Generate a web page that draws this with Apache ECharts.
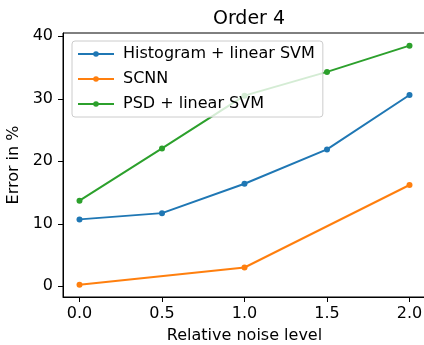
<!DOCTYPE html>
<html>
<head>
<meta charset="utf-8">
<script src="https://cdn.jsdelivr.net/npm/echarts@6/dist/echarts.min.js"></script>
<style>
  html, body { margin: 0; padding: 0; background: #fff; }
  #main { width: 424px; height: 345px; }
</style>
</head>
<body>
<div id="main"></div>
<script>
// 数据
var noiseLevels = [0.0, 0.5, 1.0, 1.5, 2.0];
var histSvm = [10.7, 11.7, 16.4, 21.9, 30.6];
var scnnX = [0.0, 1.0, 2.0];
var scnn = [0.25, 3.0, 16.2];
var psdSvm = [13.7, 22.05, 30.5, 34.3, 38.5];
var xTicks = [0, 0.5, 1.0, 1.5, 2.0];
var yTicks = [0, 10, 20, 30, 40];

var font = 'DejaVu Sans';

function pairs(xs, ys) {
  return xs.map(function (x, i) { return [x, ys[i]]; });
}

var myChart = echarts.init(document.getElementById('main'));
var option;

var lineSeries = function (name, color, data) {
  return {
    name: name,
    type: 'line',
    data: data,
    symbol: 'circle',
    symbolSize: 6,
    showSymbol: true,
    color: color,
    lineStyle: { width: 2, color: color },
    itemStyle: { color: color },
    emphasis: { disabled: true },
    animation: false
  };
};

option = {
  animation: false,
  title: {
    text: 'Order 4',
    left: 244,
    top: 5,
    textAlign: 'center',
    textStyle: { fontFamily: font, fontSize: 19, fontWeight: 'normal', color: '#000' }
  },
  legend: {
    orient: 'vertical',
    left: 72,
    top: 41,
    padding: [5, 8, 5, 5],
    itemGap: 9,
    itemWidth: 36,
    itemHeight: 7,
    backgroundColor: 'rgba(255,255,255,0.8)',
    borderColor: '#cccccc',
    borderWidth: 1,
    borderRadius: 3,
    textStyle: { fontFamily: font, fontSize: 16, color: '#000', padding: [0, 0, 0, 4] },
    data: ['Histogram + linear SVM', 'SCNN', 'PSD + linear SVM']
  },
  grid: {
    left: 63,
    right: -2,
    top: 33,
    bottom: 48,
    outerBoundsMode: 'none',
    containLabel: false,
    show: true,
    borderColor: '#000',
    borderWidth: 1
  },
  xAxis: {
    type: 'value',
    min: -0.1,
    max: 2.1,
    name: 'Relative noise level',
    nameLocation: 'middle',
    nameGap: 31,
    nameTextStyle: { fontFamily: font, fontSize: 16, color: '#000' },
    axisLine: { show: true, onZero: false, lineStyle: { color: '#000', width: 1 } },
    axisTick: { show: true, length: 5, customValues: xTicks, lineStyle: { color: '#000' } },
    axisLabel: {
      customValues: xTicks,
      margin: 9,
      fontFamily: font,
      fontSize: 16,
      color: '#000',
      formatter: function (v) { return v.toFixed(1); }
    },
    splitLine: { show: false }
  },
  yAxis: {
    type: 'value',
    min: -1.72,
    max: 40.52,
    name: 'Error in %',
    nameLocation: 'middle',
    nameGap: 40,
    nameTextStyle: { fontFamily: font, fontSize: 16, color: '#000' },
    axisLine: { show: true, onZero: false, lineStyle: { color: '#000', width: 1 } },
    axisTick: { show: true, length: 5, customValues: yTicks, lineStyle: { color: '#000' } },
    axisLabel: {
      customValues: yTicks,
      margin: 10,
      fontFamily: font,
      fontSize: 16,
      color: '#000'
    },
    splitLine: { show: false }
  },
  series: [
    lineSeries('Histogram + linear SVM', '#1f77b4', pairs(noiseLevels, histSvm)),
    lineSeries('SCNN', '#ff7f0e', pairs(scnnX, scnn)),
    lineSeries('PSD + linear SVM', '#2ca02c', pairs(noiseLevels, psdSvm))
  ]
};

option && myChart.setOption(option);
</script>
</body>
</html>
